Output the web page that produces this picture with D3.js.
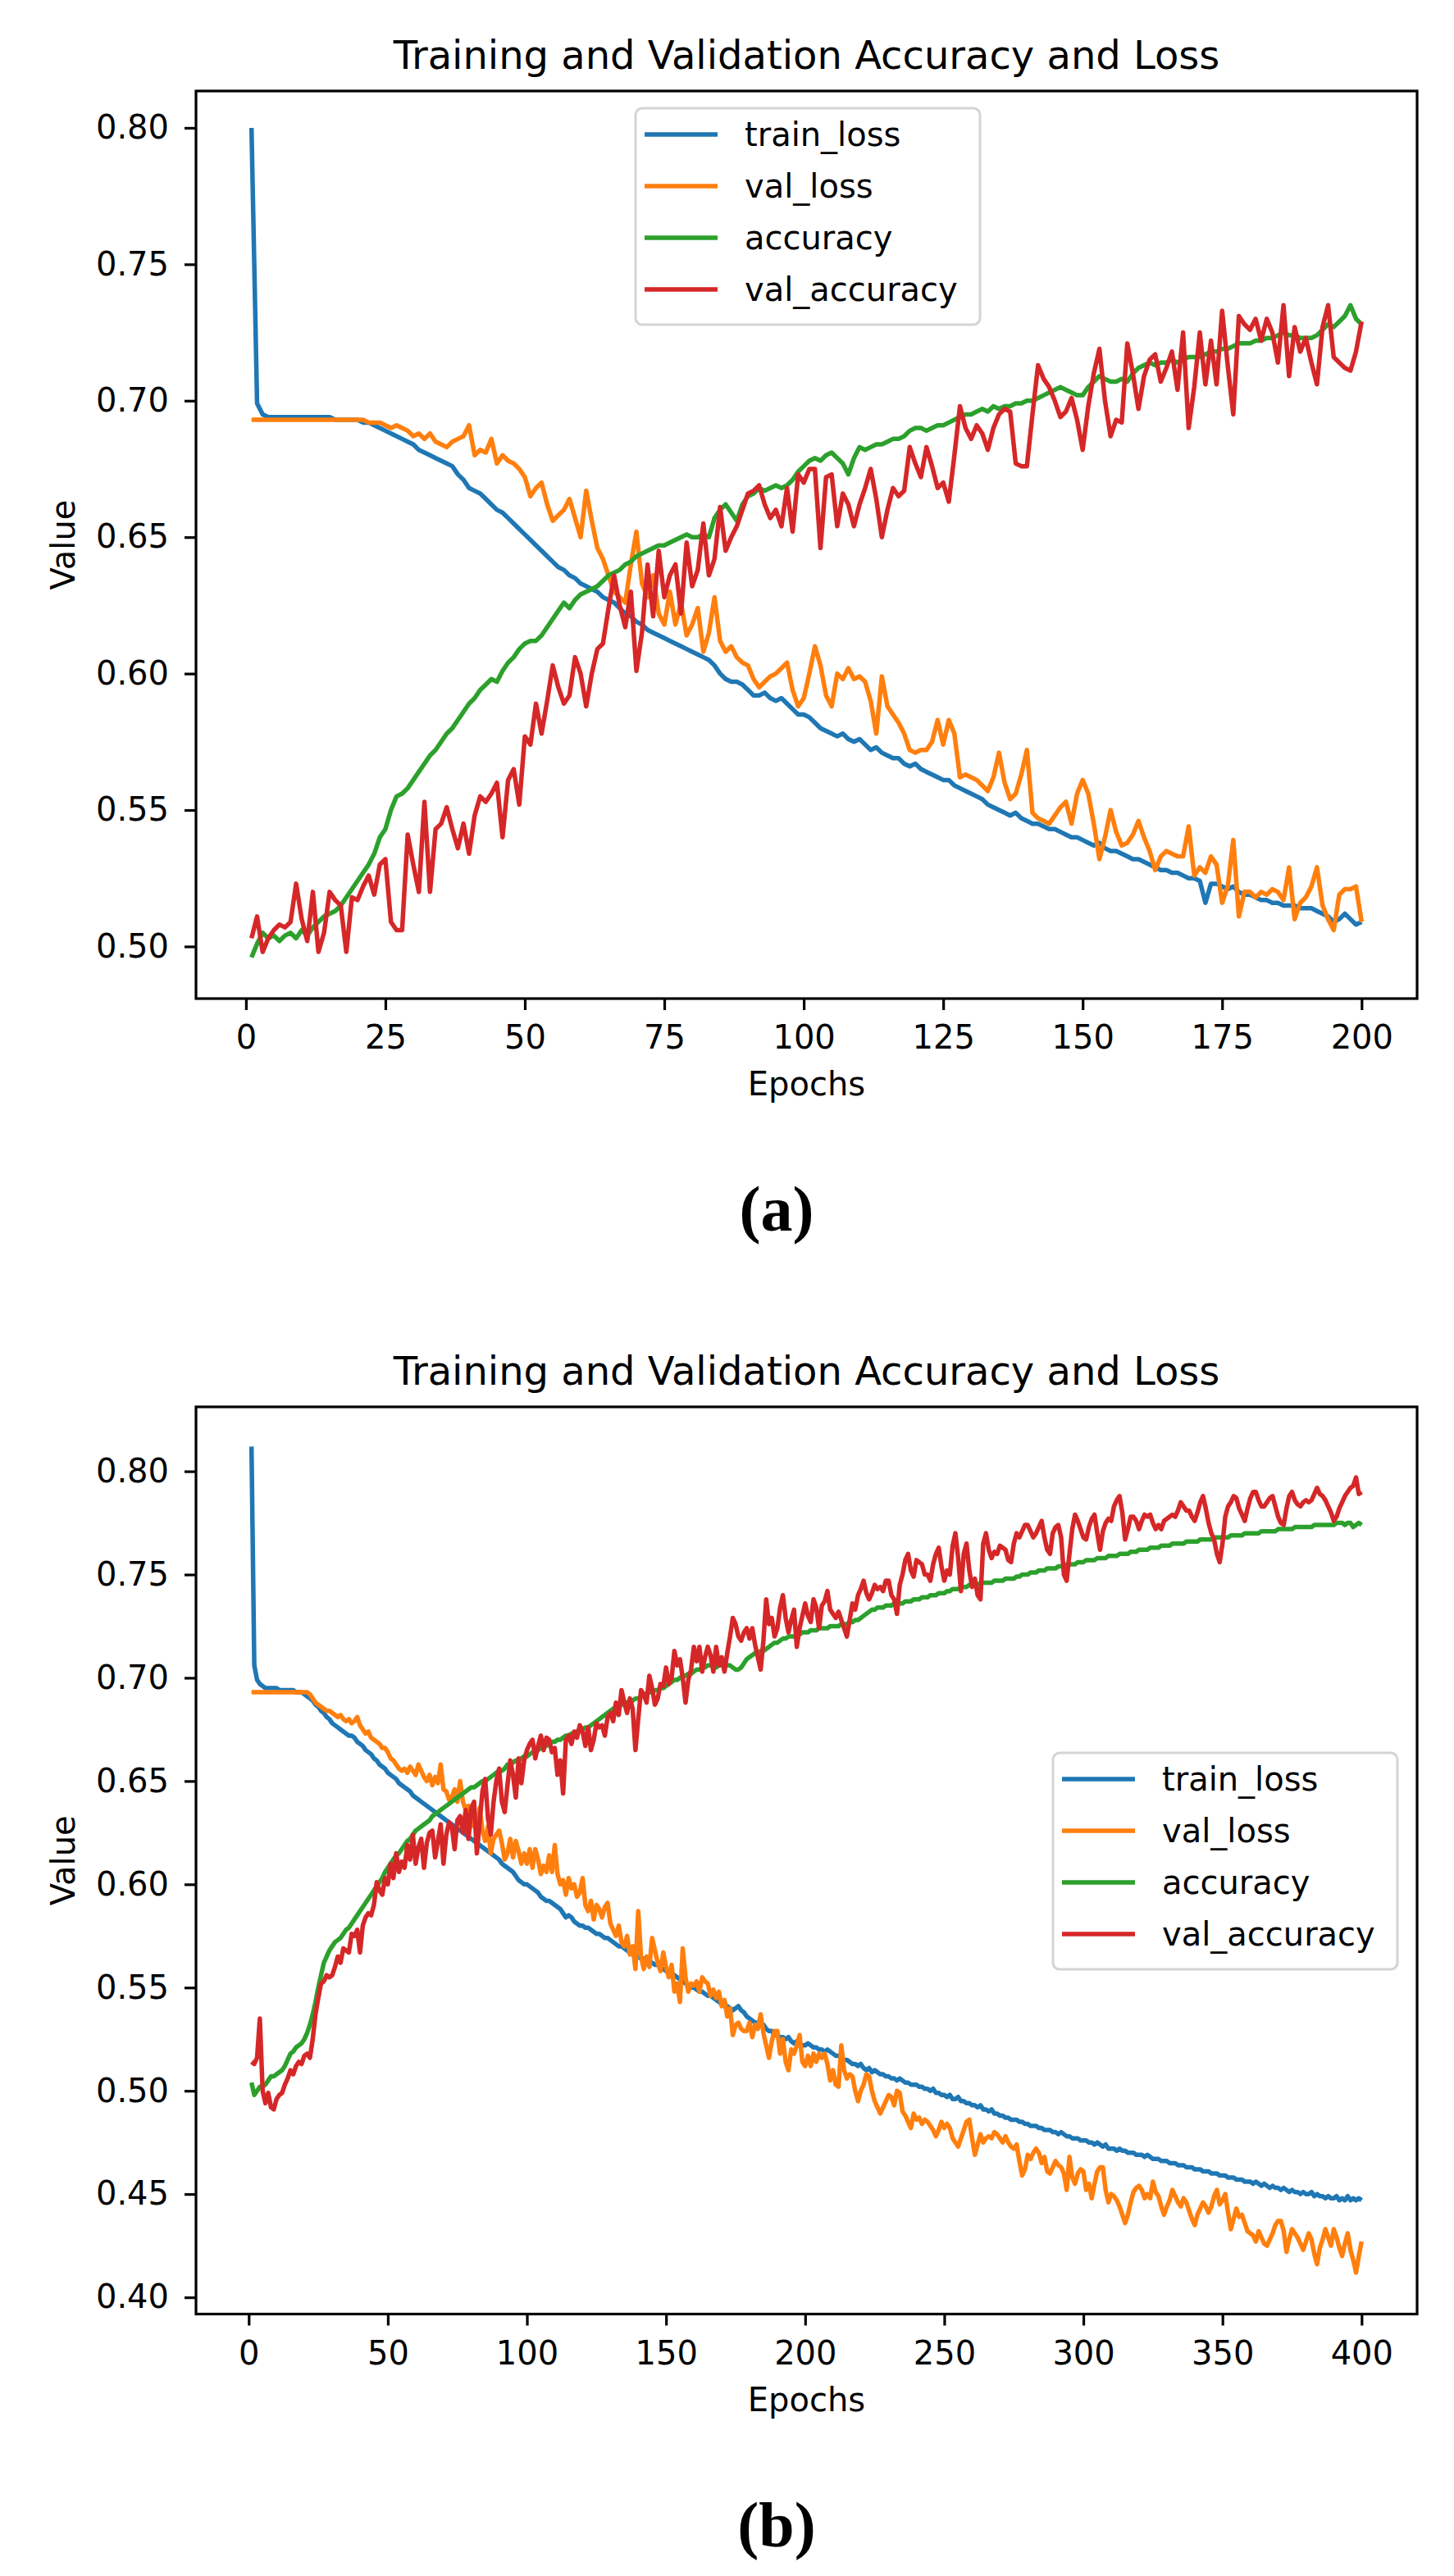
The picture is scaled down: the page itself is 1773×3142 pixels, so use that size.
<!DOCTYPE html>
<html>
<head>
<meta charset="utf-8">
<script src="https://cdn.jsdelivr.net/npm/d3@7"></script>
<style>
  body { margin: 0; background: #fff; }
  svg text { font-family: 'DejaVu Sans', sans-serif; }
</style>
</head>
<body>
<script>
var seriesNames = ['train_loss', 'val_loss', 'accuracy', 'val_accuracy'];
var seriesColors = ['#1f77b4', '#ff7f0e', '#2ca02c', '#d62728'];

// panel (a): 200 epochs
var trainLossA = [
  0.800, 0.699, 0.695, 0.694, 0.694, 0.694, 0.694, 0.694, 0.694, 0.694,
  0.694, 0.694, 0.694, 0.694, 0.694, 0.693, 0.693, 0.693, 0.693, 0.693,
  0.692, 0.692, 0.691, 0.690, 0.689, 0.688, 0.687, 0.686, 0.685, 0.684,
  0.682, 0.681, 0.680, 0.679, 0.678, 0.677, 0.676, 0.673, 0.671, 0.668,
  0.667, 0.666, 0.664, 0.662, 0.660, 0.659, 0.657, 0.655, 0.653, 0.651,
  0.649, 0.647, 0.645, 0.643, 0.641, 0.639, 0.638, 0.636, 0.635, 0.633,
  0.632, 0.631, 0.630, 0.628, 0.627, 0.626, 0.624, 0.622, 0.621, 0.619,
  0.618, 0.616, 0.615, 0.614, 0.613, 0.612, 0.611, 0.610, 0.609, 0.608,
  0.607, 0.606, 0.605, 0.603, 0.600, 0.598, 0.597, 0.597, 0.596, 0.594,
  0.592, 0.592, 0.593, 0.591, 0.590, 0.591, 0.589, 0.587, 0.585, 0.585,
  0.584, 0.582, 0.580, 0.579, 0.578, 0.577, 0.578, 0.576, 0.575, 0.576,
  0.574, 0.572, 0.573, 0.571, 0.570, 0.569, 0.569, 0.567, 0.566, 0.567,
  0.565, 0.564, 0.563, 0.562, 0.561, 0.561, 0.559, 0.558, 0.557, 0.556,
  0.555, 0.554, 0.552, 0.551, 0.550, 0.549, 0.548, 0.549, 0.547, 0.546,
  0.545, 0.545, 0.544, 0.543, 0.543, 0.542, 0.541, 0.540, 0.540, 0.539,
  0.538, 0.537, 0.538, 0.536, 0.535, 0.535, 0.534, 0.533, 0.532, 0.532,
  0.531, 0.530, 0.529, 0.528, 0.528, 0.527, 0.527, 0.526, 0.525, 0.525,
  0.524, 0.516, 0.523, 0.523, 0.522, 0.521, 0.522, 0.520, 0.519, 0.519,
  0.518, 0.517, 0.517, 0.516, 0.516, 0.515, 0.515, 0.515, 0.514, 0.514,
  0.514, 0.513, 0.512, 0.511, 0.509, 0.510, 0.512, 0.510, 0.508, 0.509
];
var valLossA = [
  0.693, 0.693, 0.693, 0.693, 0.693, 0.693, 0.693, 0.693, 0.693, 0.693,
  0.693, 0.693, 0.693, 0.693, 0.693, 0.693, 0.693, 0.693, 0.693, 0.693,
  0.693, 0.692, 0.692, 0.692, 0.691, 0.690, 0.691, 0.690, 0.689, 0.687,
  0.688, 0.686, 0.688, 0.685, 0.684, 0.683, 0.685, 0.686, 0.687, 0.691,
  0.680, 0.682, 0.681, 0.686, 0.677, 0.680, 0.678, 0.677, 0.675, 0.672,
  0.665, 0.668, 0.670, 0.662, 0.656, 0.658, 0.660, 0.664, 0.657, 0.650,
  0.667, 0.656, 0.646, 0.642, 0.636, 0.630, 0.628, 0.626, 0.640, 0.652,
  0.633, 0.628, 0.636, 0.622, 0.618, 0.630, 0.618, 0.626, 0.614, 0.618,
  0.624, 0.608, 0.615, 0.628, 0.612, 0.608, 0.610, 0.606, 0.604, 0.603,
  0.598, 0.595, 0.597, 0.599, 0.600, 0.602, 0.604, 0.594, 0.588, 0.591,
  0.600, 0.610, 0.603, 0.592, 0.588, 0.600, 0.598, 0.602, 0.598, 0.599,
  0.597, 0.590, 0.578, 0.599, 0.588, 0.585, 0.582, 0.578, 0.572, 0.571,
  0.572, 0.572, 0.575, 0.583, 0.574, 0.583, 0.578, 0.562, 0.563, 0.562,
  0.561, 0.559, 0.557, 0.562, 0.571, 0.560, 0.554, 0.556, 0.563, 0.572,
  0.549, 0.547, 0.546, 0.545, 0.548, 0.551, 0.553, 0.545, 0.556, 0.561,
  0.556, 0.545, 0.532, 0.540, 0.550, 0.542, 0.537, 0.538, 0.541, 0.546,
  0.540, 0.535, 0.528, 0.533, 0.535, 0.534, 0.533, 0.533, 0.544, 0.526,
  0.529, 0.527, 0.533, 0.530, 0.516, 0.522, 0.539, 0.511, 0.520, 0.520,
  0.518, 0.520, 0.519, 0.521, 0.520, 0.517, 0.529, 0.510, 0.516, 0.518,
  0.522, 0.529, 0.515, 0.510, 0.506, 0.519, 0.521, 0.521, 0.522, 0.509
];
var accuracyA = [
  0.496, 0.501, 0.505, 0.503, 0.504, 0.502, 0.504, 0.505, 0.503, 0.506,
  0.504, 0.507, 0.509, 0.511, 0.512, 0.513, 0.515, 0.518, 0.521, 0.524,
  0.527, 0.530, 0.534, 0.540, 0.543, 0.550, 0.555, 0.556, 0.558, 0.561,
  0.564, 0.567, 0.570, 0.572, 0.575, 0.578, 0.580, 0.583, 0.586, 0.589,
  0.591, 0.594, 0.596, 0.598, 0.597, 0.601, 0.604, 0.606, 0.609, 0.611,
  0.612, 0.612, 0.614, 0.617, 0.620, 0.623, 0.626, 0.624, 0.627, 0.629,
  0.630, 0.631, 0.632, 0.634, 0.636, 0.637, 0.638, 0.640, 0.641, 0.643,
  0.644, 0.645, 0.646, 0.647, 0.647, 0.648, 0.649, 0.650, 0.651, 0.650,
  0.650, 0.651, 0.650, 0.657, 0.660, 0.662, 0.659, 0.656, 0.662, 0.665,
  0.666, 0.668, 0.667, 0.668, 0.669, 0.668, 0.669, 0.671, 0.674, 0.676,
  0.678, 0.679, 0.678, 0.680, 0.681, 0.679, 0.677, 0.673, 0.679, 0.683,
  0.682, 0.683, 0.684, 0.684, 0.685, 0.686, 0.686, 0.687, 0.689, 0.690,
  0.690, 0.689, 0.690, 0.691, 0.691, 0.692, 0.693, 0.694, 0.695, 0.695,
  0.696, 0.697, 0.696, 0.698, 0.697, 0.698, 0.698, 0.699, 0.699, 0.700,
  0.700, 0.701, 0.702, 0.703, 0.704, 0.705, 0.704, 0.703, 0.702, 0.702,
  0.705, 0.707, 0.709, 0.708, 0.707, 0.707, 0.708, 0.707, 0.710, 0.712,
  0.713, 0.714, 0.713, 0.714, 0.714, 0.715, 0.714, 0.715, 0.716, 0.716,
  0.716, 0.717, 0.718, 0.718, 0.719, 0.719, 0.720, 0.721, 0.721, 0.721,
  0.722, 0.722, 0.723, 0.723, 0.724, 0.725, 0.724, 0.724, 0.723, 0.723,
  0.723, 0.724, 0.726, 0.728, 0.727, 0.729, 0.731, 0.735, 0.730, 0.728
];
var valAccuracyA = [
  0.503, 0.511, 0.498, 0.503, 0.506, 0.508, 0.507, 0.509, 0.523, 0.510,
  0.502, 0.520, 0.498, 0.505, 0.520, 0.517, 0.515, 0.498, 0.518, 0.517,
  0.522, 0.526, 0.519, 0.530, 0.532, 0.509, 0.506, 0.506, 0.541, 0.530,
  0.520, 0.553, 0.520, 0.543, 0.545, 0.551, 0.543, 0.536, 0.545, 0.534,
  0.548, 0.555, 0.553, 0.556, 0.560, 0.540, 0.561, 0.565, 0.552, 0.577,
  0.574, 0.589, 0.578, 0.590, 0.603, 0.595, 0.589, 0.592, 0.606, 0.600,
  0.588, 0.600, 0.609, 0.611, 0.624, 0.636, 0.625, 0.617, 0.630, 0.601,
  0.615, 0.640, 0.621, 0.645, 0.628, 0.636, 0.640, 0.622, 0.648, 0.632,
  0.638, 0.655, 0.636, 0.642, 0.661, 0.645, 0.650, 0.654, 0.660, 0.666,
  0.667, 0.669, 0.662, 0.657, 0.660, 0.654, 0.668, 0.652, 0.673, 0.670,
  0.675, 0.675, 0.646, 0.672, 0.673, 0.654, 0.666, 0.662, 0.654, 0.662,
  0.668, 0.675, 0.664, 0.650, 0.660, 0.668, 0.665, 0.667, 0.683, 0.677,
  0.672, 0.683, 0.676, 0.668, 0.670, 0.663, 0.680, 0.698, 0.690, 0.686,
  0.691, 0.688, 0.682, 0.690, 0.695, 0.697, 0.696, 0.677, 0.676, 0.676,
  0.695, 0.713, 0.708, 0.705, 0.700, 0.694, 0.696, 0.701, 0.693, 0.682,
  0.698, 0.710, 0.719, 0.700, 0.687, 0.693, 0.692, 0.721, 0.710, 0.697,
  0.709, 0.715, 0.717, 0.707, 0.712, 0.718, 0.704, 0.725, 0.690, 0.705,
  0.725, 0.706, 0.722, 0.706, 0.733, 0.713, 0.695, 0.731, 0.728, 0.726,
  0.730, 0.722, 0.730, 0.725, 0.714, 0.735, 0.709, 0.727, 0.718, 0.723,
  0.714, 0.706, 0.727, 0.735, 0.716, 0.714, 0.712, 0.711, 0.718, 0.729
];

// panel (b): 400 epochs
var trainLossB = [
  0.812, 0.706, 0.699, 0.697, 0.696, 0.695, 0.695, 0.695, 0.695, 0.695,
  0.694, 0.694, 0.694, 0.694, 0.694, 0.694, 0.693, 0.693, 0.693, 0.692,
  0.691, 0.690, 0.689, 0.687, 0.686, 0.684, 0.683, 0.681, 0.680, 0.678,
  0.677, 0.676, 0.675, 0.674, 0.673, 0.672, 0.672, 0.671, 0.669, 0.668,
  0.667, 0.665, 0.664, 0.663, 0.661, 0.660, 0.658, 0.657, 0.656, 0.654,
  0.653, 0.652, 0.651, 0.649, 0.648, 0.647, 0.646, 0.645, 0.643, 0.642,
  0.641, 0.640, 0.639, 0.638, 0.637, 0.636, 0.635, 0.634, 0.633, 0.632,
  0.631, 0.630, 0.629, 0.628, 0.627, 0.626, 0.625, 0.624, 0.623, 0.622,
  0.621, 0.620, 0.619, 0.618, 0.617, 0.616, 0.615, 0.614, 0.613, 0.612,
  0.610, 0.609, 0.608, 0.607, 0.606, 0.604, 0.602, 0.601, 0.600, 0.600,
  0.599, 0.598, 0.597, 0.596, 0.594, 0.593, 0.592, 0.592, 0.591, 0.590,
  0.589, 0.588, 0.586, 0.584, 0.585, 0.584, 0.582, 0.581, 0.580, 0.580,
  0.579, 0.579, 0.578, 0.577, 0.576, 0.576, 0.575, 0.574, 0.574, 0.573,
  0.572, 0.571, 0.570, 0.570, 0.569, 0.568, 0.567, 0.566, 0.566, 0.565,
  0.564, 0.564, 0.563, 0.562, 0.562, 0.561, 0.561, 0.560, 0.559, 0.558,
  0.557, 0.557, 0.556, 0.555, 0.554, 0.553, 0.552, 0.551, 0.550, 0.550,
  0.549, 0.548, 0.548, 0.547, 0.546, 0.546, 0.545, 0.544, 0.543, 0.542,
  0.541, 0.541, 0.540, 0.539, 0.540, 0.541, 0.539, 0.538, 0.536, 0.535,
  0.534, 0.533, 0.533, 0.532, 0.532, 0.530, 0.529, 0.529, 0.527, 0.527,
  0.526, 0.526, 0.525, 0.526, 0.524, 0.523, 0.524, 0.523, 0.522, 0.522,
  0.523, 0.522, 0.521, 0.521, 0.520, 0.520, 0.519, 0.520, 0.519, 0.518,
  0.517, 0.517, 0.516, 0.515, 0.515, 0.514, 0.513, 0.513, 0.512, 0.513,
  0.511, 0.510, 0.511, 0.509, 0.510, 0.509, 0.508, 0.508, 0.507, 0.507,
  0.506, 0.506, 0.505, 0.506, 0.505, 0.504, 0.504, 0.503, 0.503, 0.503,
  0.502, 0.502, 0.501, 0.501, 0.500, 0.501, 0.499, 0.499, 0.498, 0.498,
  0.497, 0.498, 0.496, 0.496, 0.497, 0.495, 0.495, 0.494, 0.494, 0.493,
  0.493, 0.492, 0.493, 0.491, 0.491, 0.490, 0.491, 0.489, 0.489, 0.488,
  0.488, 0.487, 0.487, 0.486, 0.486, 0.486, 0.485, 0.485, 0.484, 0.484,
  0.483, 0.483, 0.483, 0.482, 0.482, 0.481, 0.481, 0.481, 0.480, 0.480,
  0.479, 0.480, 0.479, 0.478, 0.478, 0.477, 0.477, 0.477, 0.476, 0.476,
  0.476, 0.475, 0.475, 0.474, 0.475, 0.474, 0.473, 0.474, 0.472, 0.472,
  0.472, 0.471, 0.472, 0.471, 0.471, 0.470, 0.470, 0.470, 0.469, 0.469,
  0.469, 0.468, 0.469, 0.468, 0.467, 0.467, 0.467, 0.466, 0.466, 0.466,
  0.465, 0.465, 0.465, 0.464, 0.464, 0.464, 0.463, 0.463, 0.463, 0.462,
  0.462, 0.462, 0.461, 0.461, 0.461, 0.460, 0.460, 0.460, 0.459, 0.459,
  0.459, 0.458, 0.458, 0.458, 0.457, 0.457, 0.457, 0.456, 0.456, 0.456,
  0.455, 0.456, 0.455, 0.454, 0.455, 0.454, 0.453, 0.454, 0.453, 0.453,
  0.452, 0.453, 0.452, 0.451, 0.452, 0.451, 0.451, 0.450, 0.451, 0.450,
  0.450, 0.451, 0.449, 0.450, 0.449, 0.449, 0.448, 0.449, 0.448, 0.448,
  0.449, 0.447, 0.448, 0.447, 0.449, 0.447, 0.448, 0.447, 0.448, 0.447
];
var valLossB = [
  0.693, 0.693, 0.693, 0.693, 0.693, 0.693, 0.693, 0.693, 0.693, 0.693,
  0.693, 0.693, 0.693, 0.693, 0.693, 0.693, 0.693, 0.693, 0.693, 0.693,
  0.693, 0.692, 0.690, 0.688, 0.687, 0.686, 0.685, 0.684, 0.684, 0.683,
  0.682, 0.681, 0.682, 0.680, 0.679, 0.680, 0.678, 0.679, 0.681, 0.677,
  0.675, 0.673, 0.674, 0.671, 0.670, 0.669, 0.668, 0.666, 0.666, 0.664,
  0.661, 0.660, 0.658, 0.656, 0.655, 0.656, 0.654, 0.657, 0.655, 0.653,
  0.658, 0.655, 0.652, 0.650, 0.653, 0.648, 0.652, 0.649, 0.658, 0.646,
  0.645, 0.641, 0.642, 0.646, 0.640, 0.650, 0.640, 0.636, 0.638, 0.628,
  0.634, 0.628, 0.637, 0.626, 0.621, 0.628, 0.615, 0.622, 0.624, 0.626,
  0.620, 0.612, 0.615, 0.622, 0.613, 0.621, 0.616, 0.610, 0.615, 0.610,
  0.617, 0.608, 0.617, 0.612, 0.605, 0.609, 0.606, 0.614, 0.606, 0.619,
  0.605, 0.600, 0.602, 0.595, 0.603, 0.598, 0.600, 0.594, 0.596, 0.603,
  0.590, 0.587, 0.592, 0.583, 0.590, 0.588, 0.584, 0.589, 0.591, 0.581,
  0.578, 0.575, 0.580, 0.572, 0.570, 0.575, 0.566, 0.570, 0.559, 0.587,
  0.565, 0.559, 0.565, 0.560, 0.574, 0.568, 0.562, 0.558, 0.567, 0.560,
  0.555, 0.561, 0.548, 0.552, 0.543, 0.569, 0.555, 0.548, 0.552, 0.551,
  0.553, 0.548, 0.555, 0.553, 0.552, 0.546, 0.549, 0.545, 0.548, 0.541,
  0.544, 0.536, 0.540, 0.527, 0.532, 0.533, 0.530, 0.529, 0.529, 0.533,
  0.526, 0.532, 0.530, 0.537, 0.528, 0.522, 0.516, 0.524, 0.529, 0.529,
  0.518, 0.525, 0.514, 0.510, 0.520, 0.518, 0.522, 0.527, 0.514, 0.512,
  0.517, 0.512, 0.518, 0.514, 0.518, 0.516, 0.518, 0.513, 0.505, 0.510,
  0.503, 0.502, 0.522, 0.510, 0.506, 0.508, 0.507, 0.500, 0.495, 0.500,
  0.503, 0.508, 0.507, 0.500, 0.495, 0.492, 0.489, 0.492, 0.495, 0.498,
  0.497, 0.493, 0.500, 0.499, 0.490, 0.488, 0.485, 0.482, 0.489, 0.486,
  0.487, 0.484, 0.486, 0.485, 0.483, 0.481, 0.478, 0.481, 0.485, 0.482,
  0.484, 0.482, 0.477, 0.475, 0.473, 0.477, 0.481, 0.485, 0.486, 0.477,
  0.469, 0.474, 0.479, 0.475, 0.477, 0.478, 0.477, 0.480, 0.479, 0.477,
  0.475, 0.478, 0.475, 0.473, 0.472, 0.474, 0.466, 0.459, 0.462, 0.469,
  0.467, 0.470, 0.472, 0.470, 0.465, 0.468, 0.461, 0.460, 0.463, 0.466,
  0.464, 0.463, 0.460, 0.452, 0.468, 0.458, 0.455, 0.460, 0.462, 0.461,
  0.452, 0.455, 0.448, 0.455, 0.461, 0.463, 0.463, 0.452, 0.446, 0.450,
  0.449, 0.447, 0.444, 0.440, 0.436, 0.440, 0.446, 0.451, 0.453, 0.454,
  0.452, 0.448, 0.450, 0.448, 0.456, 0.451, 0.449, 0.444, 0.440, 0.444,
  0.447, 0.452, 0.449, 0.446, 0.444, 0.448, 0.446, 0.442, 0.438, 0.435,
  0.440, 0.443, 0.446, 0.444, 0.441, 0.444, 0.449, 0.452, 0.445, 0.447,
  0.450, 0.441, 0.433, 0.438, 0.443, 0.439, 0.440, 0.436, 0.432, 0.431,
  0.430, 0.427, 0.432, 0.429, 0.426, 0.425, 0.428, 0.431, 0.435, 0.437,
  0.437, 0.432, 0.422, 0.428, 0.433, 0.431, 0.429, 0.426, 0.423, 0.427,
  0.431, 0.428, 0.421, 0.416, 0.424, 0.428, 0.433, 0.429, 0.425, 0.433,
  0.429, 0.424, 0.420, 0.426, 0.431, 0.423, 0.418, 0.412, 0.420, 0.427
];
var accuracyB = [
  0.504, 0.498, 0.500, 0.502, 0.502, 0.503, 0.505, 0.507, 0.507, 0.508,
  0.509, 0.510, 0.512, 0.515, 0.518, 0.519, 0.521, 0.522, 0.523, 0.525,
  0.528, 0.532, 0.537, 0.543, 0.550, 0.556, 0.562, 0.565, 0.568, 0.570,
  0.572, 0.573, 0.574, 0.576, 0.578, 0.579, 0.581, 0.583, 0.585, 0.587,
  0.589, 0.591, 0.593, 0.595, 0.597, 0.599, 0.601, 0.603, 0.606, 0.608,
  0.610, 0.612, 0.614, 0.615, 0.617, 0.619, 0.621, 0.622, 0.624, 0.626,
  0.627, 0.628, 0.629, 0.630, 0.631, 0.633, 0.634, 0.635, 0.636, 0.637,
  0.638, 0.639, 0.640, 0.641, 0.642, 0.643, 0.644, 0.645, 0.646, 0.647,
  0.647, 0.648, 0.649, 0.650, 0.650, 0.651, 0.652, 0.653, 0.654, 0.655,
  0.655, 0.656, 0.658, 0.658, 0.659, 0.660, 0.660, 0.661, 0.662, 0.662,
  0.663, 0.664, 0.664, 0.665, 0.666, 0.667, 0.667, 0.668, 0.669, 0.669,
  0.670, 0.670, 0.671, 0.672, 0.672, 0.673, 0.673, 0.674, 0.675, 0.675,
  0.676, 0.676, 0.677, 0.678, 0.679, 0.680, 0.681, 0.682, 0.683, 0.684,
  0.685, 0.686, 0.686, 0.687, 0.688, 0.688, 0.689, 0.689, 0.690, 0.690,
  0.691, 0.692, 0.692, 0.693, 0.693, 0.694, 0.694, 0.695, 0.695, 0.696,
  0.697, 0.698, 0.699, 0.699, 0.700, 0.701, 0.701, 0.702, 0.702, 0.703,
  0.704, 0.704, 0.705, 0.705, 0.706, 0.706, 0.706, 0.705, 0.706, 0.706,
  0.706, 0.706, 0.706, 0.705, 0.704, 0.704, 0.705, 0.707, 0.709, 0.710,
  0.711, 0.712, 0.712, 0.713, 0.713, 0.714, 0.715, 0.716, 0.717, 0.717,
  0.718, 0.719, 0.719, 0.720, 0.720, 0.720, 0.721, 0.721, 0.722, 0.722,
  0.722, 0.723, 0.723, 0.723, 0.724, 0.724, 0.724, 0.724, 0.725, 0.725,
  0.725, 0.725, 0.726, 0.726, 0.726, 0.727, 0.727, 0.728, 0.728, 0.729,
  0.730, 0.731, 0.732, 0.733, 0.733, 0.734, 0.734, 0.734, 0.735, 0.735,
  0.735, 0.736, 0.736, 0.736, 0.736, 0.737, 0.737, 0.737, 0.738, 0.738,
  0.738, 0.739, 0.739, 0.739, 0.740, 0.740, 0.740, 0.741, 0.741, 0.741,
  0.742, 0.742, 0.743, 0.743, 0.743, 0.744, 0.744, 0.744, 0.745, 0.745,
  0.745, 0.745, 0.746, 0.746, 0.746, 0.746, 0.746, 0.747, 0.747, 0.747,
  0.747, 0.748, 0.748, 0.748, 0.748, 0.749, 0.749, 0.750, 0.750, 0.750,
  0.751, 0.751, 0.751, 0.752, 0.752, 0.752, 0.753, 0.753, 0.753, 0.753,
  0.754, 0.754, 0.754, 0.755, 0.755, 0.755, 0.755, 0.756, 0.756, 0.756,
  0.757, 0.757, 0.757, 0.757, 0.758, 0.758, 0.758, 0.758, 0.759, 0.759,
  0.759, 0.759, 0.760, 0.760, 0.760, 0.760, 0.761, 0.761, 0.761, 0.762,
  0.762, 0.762, 0.762, 0.763, 0.763, 0.763, 0.763, 0.764, 0.764, 0.764,
  0.764, 0.765, 0.765, 0.765, 0.765, 0.765, 0.766, 0.766, 0.766, 0.766,
  0.766, 0.767, 0.767, 0.767, 0.767, 0.767, 0.768, 0.768, 0.768, 0.768,
  0.768, 0.768, 0.769, 0.769, 0.769, 0.769, 0.769, 0.770, 0.770, 0.770,
  0.770, 0.770, 0.770, 0.771, 0.771, 0.771, 0.771, 0.771, 0.771, 0.772,
  0.772, 0.772, 0.772, 0.772, 0.772, 0.773, 0.773, 0.773, 0.773, 0.773,
  0.773, 0.773, 0.774, 0.774, 0.774, 0.774, 0.774, 0.774, 0.774, 0.774,
  0.775, 0.775, 0.775, 0.774, 0.775, 0.775, 0.773, 0.774, 0.775, 0.774
];
var valAccuracyB = [
  0.514, 0.513, 0.516, 0.535, 0.500, 0.494, 0.499, 0.492, 0.491, 0.496,
  0.498, 0.499, 0.503, 0.506, 0.510, 0.508, 0.512, 0.514, 0.513, 0.517,
  0.518, 0.516, 0.525, 0.537, 0.545, 0.552, 0.553, 0.556, 0.555, 0.556,
  0.560, 0.565, 0.562, 0.569, 0.568, 0.567, 0.576, 0.575, 0.578, 0.567,
  0.580, 0.584, 0.586, 0.585, 0.590, 0.601, 0.597, 0.595, 0.603, 0.600,
  0.610, 0.603, 0.615, 0.606, 0.611, 0.608, 0.619, 0.612, 0.624, 0.610,
  0.618, 0.622, 0.608, 0.620, 0.625, 0.626, 0.613, 0.621, 0.629, 0.610,
  0.624, 0.630, 0.628, 0.617, 0.631, 0.633, 0.625, 0.636, 0.622, 0.637,
  0.640, 0.615, 0.630, 0.645, 0.651, 0.632, 0.624, 0.640, 0.650, 0.656,
  0.640, 0.635, 0.648, 0.660, 0.653, 0.642, 0.661, 0.649, 0.660, 0.665,
  0.668, 0.670, 0.661, 0.667, 0.672, 0.665, 0.671, 0.670, 0.664, 0.666,
  0.653, 0.660, 0.644, 0.670, 0.672, 0.668, 0.674, 0.671, 0.677, 0.674,
  0.667, 0.676, 0.665, 0.670, 0.678, 0.676, 0.677, 0.672, 0.681, 0.683,
  0.679, 0.688, 0.682, 0.694, 0.688, 0.683, 0.690, 0.685, 0.665, 0.680,
  0.694, 0.692, 0.688, 0.701, 0.695, 0.687, 0.690, 0.697, 0.696, 0.705,
  0.697, 0.700, 0.713, 0.706, 0.709, 0.700, 0.688, 0.699, 0.704, 0.715,
  0.708, 0.715, 0.703, 0.710, 0.715, 0.711, 0.703, 0.715, 0.706, 0.710,
  0.703, 0.712, 0.720, 0.729, 0.726, 0.720, 0.718, 0.722, 0.724, 0.719,
  0.724, 0.716, 0.710, 0.704, 0.718, 0.738, 0.726, 0.729, 0.720, 0.724,
  0.734, 0.740, 0.729, 0.722, 0.728, 0.733, 0.715, 0.724, 0.730, 0.736,
  0.730, 0.727, 0.738, 0.734, 0.724, 0.735, 0.737, 0.742, 0.733, 0.731,
  0.729, 0.732, 0.728, 0.724, 0.720, 0.728, 0.736, 0.733, 0.740, 0.743,
  0.747, 0.741, 0.738, 0.741, 0.745, 0.743, 0.744, 0.742, 0.747, 0.747,
  0.740, 0.738, 0.731, 0.745, 0.750, 0.757, 0.760, 0.752, 0.749, 0.757,
  0.756, 0.755, 0.750, 0.750, 0.747, 0.755, 0.760, 0.763, 0.754, 0.747,
  0.752, 0.750, 0.764, 0.770, 0.758, 0.742, 0.760, 0.765, 0.752, 0.744,
  0.748, 0.740, 0.738, 0.765, 0.770, 0.762, 0.758, 0.761, 0.760, 0.764,
  0.763, 0.762, 0.757, 0.756, 0.765, 0.770, 0.768, 0.771, 0.774, 0.774,
  0.771, 0.768, 0.770, 0.773, 0.776, 0.768, 0.762, 0.760, 0.770, 0.773,
  0.774, 0.768, 0.750, 0.747, 0.760, 0.772, 0.779, 0.776, 0.772, 0.768,
  0.767, 0.773, 0.777, 0.779, 0.770, 0.762, 0.771, 0.775, 0.777, 0.776,
  0.783, 0.786, 0.788, 0.780, 0.767, 0.772, 0.778, 0.778, 0.776, 0.772,
  0.776, 0.779, 0.778, 0.779, 0.775, 0.772, 0.774, 0.772, 0.776, 0.777,
  0.778, 0.779, 0.778, 0.781, 0.785, 0.783, 0.781, 0.781, 0.778, 0.776,
  0.780, 0.785, 0.788, 0.782, 0.775, 0.770, 0.767, 0.760, 0.756, 0.765,
  0.778, 0.783, 0.785, 0.788, 0.787, 0.782, 0.779, 0.776, 0.782, 0.787,
  0.790, 0.790, 0.786, 0.783, 0.783, 0.785, 0.787, 0.788, 0.783, 0.778,
  0.775, 0.774, 0.782, 0.788, 0.790, 0.786, 0.784, 0.783, 0.785, 0.786,
  0.785, 0.786, 0.789, 0.792, 0.789, 0.788, 0.786, 0.783, 0.780, 0.776,
  0.778, 0.782, 0.785, 0.788, 0.790, 0.792, 0.793, 0.797, 0.789, 0.790
];

var xTicksA = [0, 25, 50, 75, 100, 125, 150, 175, 200];
var yTicksA = [0.50, 0.55, 0.60, 0.65, 0.70, 0.75, 0.80];
var xTicksB = [0, 50, 100, 150, 200, 250, 300, 350, 400];
var yTicksB = [0.40, 0.45, 0.50, 0.55, 0.60, 0.65, 0.70, 0.75, 0.80];

var chartTitle = 'Training and Validation Accuracy and Loss';
var xLabel = 'Epochs';
var yLabel = 'Value';

var W = 1773, H = 3142;
var axLeft = 239, axRight = 1728;
var tickFont = 40;

var panels = [
  {
    tag: '(a)', tagY: 1501,
    top: 111, bottom: 1218,
    xDomain: [-8.95, 209.95], yDomain: [0.4809, 0.8135],
    series: [trainLossA, valLossA, accuracyA, valAccuracyA],
    xTicks: xTicksA, yTicks: yTicksA,
    legendX: 775, legendY: 132
  },
  {
    tag: '(b)', tagY: 3106,
    top: 1716, bottom: 2822.5,
    xDomain: [-18.95, 419.95], yDomain: [0.3919, 0.8312],
    series: [trainLossB, valLossB, accuracyB, valAccuracyB],
    xTicks: xTicksB, yTicks: yTicksB,
    legendX: 1284, legendY: 2138
  }
];

var svg = d3.select('body').append('svg')
  .attr('width', W)
  .attr('height', H)
  .attr('viewBox', '0 0 ' + W + ' ' + H);

svg.append('rect').attr('width', W).attr('height', H).attr('fill', '#fff');

function styleAxis(g) {
  g.attr('font-family', "'DejaVu Sans', sans-serif").attr('font-size', tickFont);
  g.select('.domain').remove();
  g.selectAll('.tick line').attr('stroke', '#000').attr('stroke-width', 3.2);
  g.selectAll('.tick text').attr('fill', '#000');
}

function drawPanel(p) {
  var x = d3.scaleLinear().domain(p.xDomain).range([axLeft, axRight]);
  var y = d3.scaleLinear().domain(p.yDomain).range([p.bottom, p.top]);
  var midX = (axLeft + axRight) / 2;
  var g = svg.append('g');

  g.append('text')
    .attr('x', midX).attr('y', p.top - 27)
    .attr('text-anchor', 'middle')
    .attr('font-size', 48)
    .text(chartTitle);

  var line = d3.line()
    .x(function(d, i) { return x(i + 1); })
    .y(function(d) { return y(d); });

  p.series.forEach(function(values, k) {
    g.append('path')
      .datum(values)
      .attr('fill', 'none')
      .attr('stroke', seriesColors[k])
      .attr('stroke-width', 5.5)
      .attr('stroke-linejoin', 'round')
      .attr('d', line);
  });

  g.append('g')
    .attr('transform', 'translate(0,' + p.bottom + ')')
    .call(d3.axisBottom(x).tickValues(p.xTicks).tickFormat(d3.format('d'))
      .tickSize(14).tickPadding(19).tickSizeOuter(0))
    .call(styleAxis);

  g.append('g')
    .attr('transform', 'translate(' + axLeft + ',0)')
    .call(d3.axisLeft(y).tickValues(p.yTicks).tickFormat(d3.format('.2f'))
      .tickSize(14).tickPadding(19).tickSizeOuter(0))
    .call(styleAxis);

  // frame on top of the lines, like matplotlib spines
  g.append('rect')
    .attr('x', axLeft).attr('y', p.top)
    .attr('width', axRight - axLeft).attr('height', p.bottom - p.top)
    .attr('fill', 'none')
    .attr('stroke', '#000')
    .attr('stroke-width', 3.2);

  g.append('text')
    .attr('x', midX).attr('y', p.bottom + 118)
    .attr('text-anchor', 'middle')
    .attr('font-size', tickFont)
    .text(xLabel);

  g.append('text')
    .attr('transform', 'translate(91,' + ((p.top + p.bottom) / 2) + ') rotate(-90)')
    .attr('text-anchor', 'middle')
    .attr('font-size', tickFont)
    .text(yLabel);

  drawLegend(g, p.legendX, p.legendY);

  g.append('text')
    .attr('x', 947).attr('y', p.tagY)
    .attr('text-anchor', 'middle')
    .attr('font-family', "'Liberation Serif', 'DejaVu Serif', serif")
    .attr('font-weight', 'bold')
    .attr('font-size', 78)
    .style('font-family', "'Liberation Serif', 'DejaVu Serif', serif")
    .text(p.tag);
}

function drawLegend(g, lx, ly) {
  var boxW = 420, boxH = 264, rowGap = 63;
  var lg = g.append('g').attr('transform', 'translate(' + lx + ',' + ly + ')');

  lg.append('rect')
    .attr('width', boxW).attr('height', boxH)
    .attr('rx', 8).attr('ry', 8)
    .attr('fill', 'rgba(255,255,255,0.8)')
    .attr('stroke', '#d4d4d4')
    .attr('stroke-width', 3);

  seriesNames.forEach(function(name, k) {
    var cy = 32 + k * rowGap;
    lg.append('line')
      .attr('x1', 11).attr('x2', 100)
      .attr('y1', cy).attr('y2', cy)
      .attr('stroke', seriesColors[k])
      .attr('stroke-width', 5.5);
    lg.append('text')
      .attr('x', 133).attr('y', cy)
      .attr('dy', '0.35em')
      .attr('font-size', tickFont)
      .text(name);
  });
}

panels.forEach(drawPanel);
</script>
</body>
</html>
